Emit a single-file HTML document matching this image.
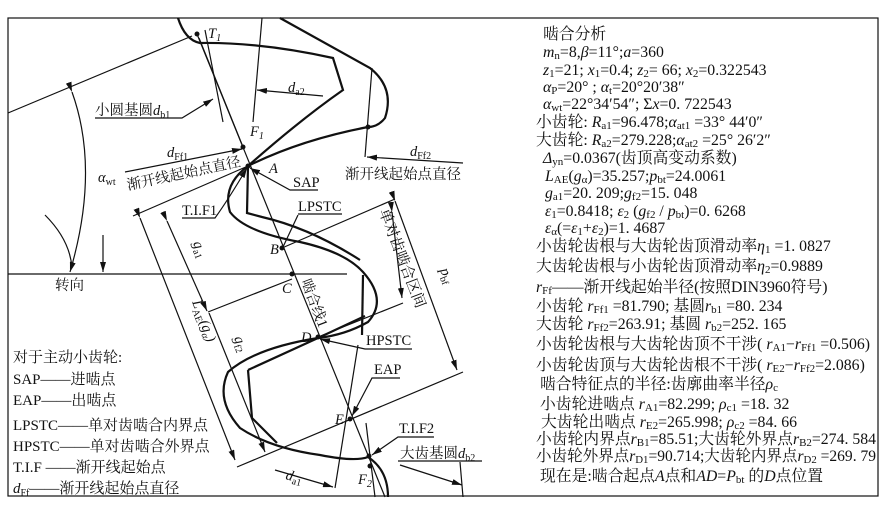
<!DOCTYPE html>
<html><head><meta charset="utf-8"><style>
html,body{margin:0;padding:0;background:#fff;width:896px;height:513px;overflow:hidden}
svg{display:block}
text{font-family:"Liberation Serif","Noto Serif CJK SC",serif;fill:#111}
.t{font-size:14.5px}
.i{font-style:italic}
</style></head><body>
<svg width="896" height="513" viewBox="0 0 896 513" xmlns="http://www.w3.org/2000/svg">
<defs>
<marker id="ar" markerWidth="10" markerHeight="6" refX="10" refY="3" orient="auto" markerUnits="userSpaceOnUse">
<path d="M0,0 L10,3 L0,6 Z" fill="#111"/></marker>
</defs>
<g fill="none" stroke="#111" stroke-width="1.2">
<rect x="8" y="18" width="870" height="478"/>
<line x1="8" y1="274" x2="347" y2="274"/>
<line x1="8" y1="113" x2="192" y2="36"/>
<path d="M72,92 Q100,170 70,272" marker-start="url(#ar)" marker-end="url(#ar)"/>
<path d="M45,215 Q70,240 72,268"/>
<line x1="103" y1="235" x2="103" y2="272" marker-end="url(#ar)"/>
<line x1="197" y1="34" x2="385" y2="497"/>
<line x1="205" y1="30" x2="223" y2="122"/>
<line x1="199" y1="38" x2="243" y2="147"/>
<line x1="262" y1="18" x2="253" y2="122"/>
<line x1="323" y1="96" x2="257" y2="90" marker-end="url(#ar)"/>
<line x1="133" y1="216" x2="248" y2="166"/>
<line x1="282" y1="248" x2="395" y2="199"/>
<line x1="208" y1="312" x2="292" y2="279"/>
<line x1="318" y1="337" x2="403" y2="303"/>
<line x1="237" y1="467" x2="463" y2="372"/>
<line x1="140" y1="218" x2="235" y2="460" marker-start="url(#ar)" marker-end="url(#ar)"/>
<line x1="167" y1="221" x2="207" y2="311" marker-start="url(#ar)" marker-end="url(#ar)"/>
<line x1="209" y1="313" x2="265" y2="452" marker-end="url(#ar)"/>
<line x1="395" y1="201" x2="457" y2="370" marker-start="url(#ar)" marker-end="url(#ar)"/>
<line x1="392" y1="212" x2="402" y2="298" marker-start="url(#ar)" marker-end="url(#ar)"/>
<polyline points="95,118 182,118 213,99" marker-end="url(#ar)"/>
<line x1="125" y1="172" x2="242" y2="149" marker-end="url(#ar)"/>
<line x1="463" y1="163" x2="367" y2="157" marker-end="url(#ar)"/>
<line x1="372" y1="68" x2="365" y2="157"/>
<polyline points="318,190 290,190 250,168" marker-end="url(#ar)"/>
<polyline points="298,215 283,247"/>
<line x1="298" y1="214" x2="342" y2="214"/>
<path d="M182,218 L215,218 Q228,200 247,168" marker-end="url(#ar)"/>
<polyline points="412,349 365,349 320,339" marker-end="url(#ar)"/>
<polyline points="400,378 372,378 352,416" marker-end="url(#ar)"/>
<line x1="358" y1="345" x2="335" y2="488"/>
<polyline points="434,437 398,437 372,455" marker-end="url(#ar)"/>
<line x1="366" y1="423" x2="375" y2="497"/>
<line x1="398" y1="461" x2="482" y2="461"/>
<line x1="400" y1="465" x2="462" y2="485" marker-end="url(#ar)"/>
<line x1="460" y1="462" x2="463" y2="497"/>
<line x1="275" y1="470" x2="333" y2="487" marker-end="url(#ar)"/>
</g>
<g fill="none" stroke="#111" stroke-width="2.2">
<path d="M178,18 Q185,40 200,43 Q260,42 333,58 L343,90 Q300,120 248,166"/>
<path d="M280,18 L370,68 Q395,88 385,118 Q378,127 368,127 Q300,140 248,166"/>
<path d="M248,166 Q222,185 230,212 Q245,232 300,242 Q345,252 363,272 Q388,300 368,322 Q345,335 318,338 Q255,348 228,372 Q215,400 240,428 Q270,448 320,455 Q355,462 368,457 Q388,470 388,497"/>
<path d="M248,166 L247,213 L262,217 Q310,228 360,260"/>
<line x1="363" y1="275" x2="362" y2="335"/>
<path d="M248,370 L318,338 L365,316"/>
<path d="M248,370 L252,418 L277,443"/>
</g>
<g fill="#111">
<circle cx="197" cy="34" r="2.5"/><circle cx="243" cy="147" r="2.5"/><circle cx="248" cy="166" r="2.5"/>
<circle cx="282" cy="248" r="2.5"/><circle cx="292" cy="274" r="2.5"/><circle cx="318" cy="337" r="2.5"/>
<circle cx="350" cy="419" r="2.5"/><circle cx="370" cy="466" r="2.5"/><circle cx="368" cy="127" r="2.5"/>
<circle cx="369" cy="456" r="2.5"/>
</g>
<g class="t">
<text x="208" y="38" class="i">T<tspan font-size="10" dy="3">1</tspan></text>
<text x="250" y="136" class="i">F<tspan font-size="10" dy="3">1</tspan></text>
<text x="269" y="173" class="i">A</text>
<text x="270" y="254" class="i">B</text>
<text x="282" y="293" class="i">C</text>
<text x="301" y="342" class="i">D</text>
<text x="335" y="424" class="i">E</text>
<text x="358" y="484" class="i">F<tspan font-size="10" dy="3">2</tspan></text>
<text x="95" y="115">小圆基圆<tspan class="i">d</tspan><tspan font-size="10" dy="3">b1</tspan></text>
<text x="167" y="157" class="i">d<tspan font-size="10" dy="3" font-style="normal">Ff1</tspan></text>
<text x="128" y="190" transform="rotate(-12 128 190)">渐开线起始点直径</text>
<text x="98" y="182" class="i">α<tspan font-size="10" dy="3" font-style="normal">wt</tspan></text>
<text x="288" y="92" class="i">d<tspan font-size="10" dy="3" font-style="normal">a2</tspan></text>
<text x="410" y="156" class="i">d<tspan font-size="10" dy="3" font-style="normal">Ff2</tspan></text>
<text x="345" y="179">渐开线起始点直径</text>
<text x="293" y="187">SAP</text>
<text x="298" y="211">LPSTC</text>
<text x="182" y="215">T.I.F1</text>
<text x="366" y="345">HPSTC</text>
<text x="374" y="374">EAP</text>
<text x="399" y="433">T.I.F2</text>
<text x="400" y="458">大齿基圆<tspan class="i">d</tspan><tspan font-size="10" dy="3">b2</tspan></text>
<text x="285" y="479" class="i" transform="rotate(15 285 479)">d<tspan font-size="10" dy="3" font-style="normal">a1</tspan></text>
<text x="55" y="290">转向</text>
<text x="301" y="281" transform="rotate(69 301 281)">啮合线1</text>
<text x="379" y="211" transform="rotate(69 379 211)" font-size="15">单对齿啮合区间</text>
<text x="440" y="270" class="i" transform="rotate(69 440 270)">p<tspan font-size="10" dy="3" font-style="normal">bf</tspan></text>
<text x="193" y="243" class="i" transform="rotate(69 193 243)">g<tspan font-size="10" dy="3" font-style="normal">a1</tspan></text>
<text x="192" y="302" class="i" transform="rotate(69 192 302)">L<tspan font-size="10" dy="3" font-style="normal">AE</tspan><tspan dy="-3">(g</tspan><tspan font-size="10" dy="3">α</tspan><tspan dy="-3">)</tspan></text>
<text x="234" y="338" class="i" transform="rotate(69 234 338)">g<tspan font-size="10" dy="3" font-style="normal">f2</tspan></text>
</g>
<g style="font-size:15px">
<text x="13" y="362">对于主动小齿轮:</text>
<text x="13" y="384">SAP——进啮点</text>
<text x="13" y="405">EAP——出啮点</text>
<text x="13" y="430">LPSTC——单对齿啮合内界点</text>
<text x="13" y="451">HPSTC——单对齿啮合外界点</text>
<text x="13" y="472">T.I.F ——渐开线起始点</text>
<text x="13" y="493"><tspan class="i">d</tspan><tspan font-size="10" dy="3">Ff</tspan><tspan dy="-3">——渐开线起始点直径</tspan></text>
</g>
<g style="font-size:15.8px">
<text x="543" y="39">啮合分析</text>
<text x="543" y="57"><tspan class="i">m</tspan><tspan font-size="11" dy="2">n</tspan><tspan dy="-2">=8,</tspan><tspan class="i">β</tspan>=11°;<tspan class="i">a</tspan>=360</text>
<text x="543" y="75"><tspan class="i">z</tspan><tspan font-size="11" dy="2">1</tspan><tspan dy="-2">=21; </tspan><tspan class="i">x</tspan><tspan font-size="11" dy="2">1</tspan><tspan dy="-2">=0.4; </tspan><tspan class="i">z</tspan><tspan font-size="11" dy="2">2</tspan><tspan dy="-2">= 66; </tspan><tspan class="i">x</tspan><tspan font-size="11" dy="2">2</tspan><tspan dy="-2">=0.322543</tspan></text>
<text x="543" y="92"><tspan class="i">α</tspan><tspan font-size="11" dy="2">P</tspan><tspan dy="-2">=20° ; </tspan><tspan class="i">α</tspan><tspan font-size="11" dy="2">t</tspan><tspan dy="-2">=20°20′38″</tspan></text>
<text x="543" y="109"><tspan class="i">α</tspan><tspan font-size="11" dy="2">wt</tspan><tspan dy="-2">=22°34′54″; Σ</tspan><tspan class="i">x</tspan>=0. 722543</text>
<text x="536" y="127">小齿轮: <tspan class="i">R</tspan><tspan font-size="11" dy="2">a1</tspan><tspan dy="-2">=96.478;</tspan><tspan class="i">α</tspan><tspan font-size="11" dy="2">at1</tspan><tspan dy="-2"> =33° 44′0″</tspan></text>
<text x="536" y="145">大齿轮: <tspan class="i">R</tspan><tspan font-size="11" dy="2">a2</tspan><tspan dy="-2">=279.228;</tspan><tspan class="i">α</tspan><tspan font-size="11" dy="2">at2</tspan><tspan dy="-2"> =25° 26′2″</tspan></text>
<text x="543" y="163"><tspan class="i">Δ</tspan><tspan font-size="11" dy="2">yn</tspan><tspan dy="-2">=0.0367(齿顶高变动系数)</tspan></text>
<text x="545" y="181"><tspan class="i">L</tspan><tspan font-size="11" dy="2">AE</tspan><tspan dy="-2">(</tspan><tspan class="i">g</tspan><tspan font-size="11" dy="2">α</tspan><tspan dy="-2">)=35.257;</tspan><tspan class="i">p</tspan><tspan font-size="11" dy="2">bt</tspan><tspan dy="-2">=24.0061</tspan></text>
<text x="545" y="198"><tspan class="i">g</tspan><tspan font-size="11" dy="2">a1</tspan><tspan dy="-2">=20. 209;</tspan><tspan class="i">g</tspan><tspan font-size="11" dy="2">f2</tspan><tspan dy="-2">=15. 048</tspan></text>
<text x="545" y="216"><tspan class="i">ε</tspan><tspan font-size="11" dy="2">1</tspan><tspan dy="-2">=0.8418; </tspan><tspan class="i">ε</tspan><tspan font-size="11" dy="2">2</tspan><tspan dy="-2"> (</tspan><tspan class="i">g</tspan><tspan font-size="11" dy="2">f2</tspan><tspan dy="-2"> / </tspan><tspan class="i">p</tspan><tspan font-size="11" dy="2">bt</tspan><tspan dy="-2">)=0. 6268</tspan></text>
<text x="545" y="233"><tspan class="i">ε</tspan><tspan font-size="11" dy="2">α</tspan><tspan dy="-2">(=</tspan><tspan class="i">ε</tspan><tspan font-size="11" dy="2">1</tspan><tspan dy="-2">+</tspan><tspan class="i">ε</tspan><tspan font-size="11" dy="2">2</tspan><tspan dy="-2">)=1. 4687</tspan></text>
<text x="536" y="251">小齿轮齿根与大齿轮齿顶滑动率<tspan class="i">η</tspan><tspan font-size="11" dy="2">1</tspan><tspan dy="-2"> =1. 0827</tspan></text>
<text x="536" y="271">大齿轮齿根与小齿轮齿顶滑动率<tspan class="i">η</tspan><tspan font-size="11" dy="2">2</tspan><tspan dy="-2">=0.9889</tspan></text>
<text x="536" y="292"><tspan class="i">r</tspan><tspan font-size="11" dy="2">Ff</tspan><tspan dy="-2">——渐开线起始半径(按照DIN3960符号)</tspan></text>
<text x="536" y="311">小齿轮 <tspan class="i">r</tspan><tspan font-size="11" dy="2">Ff1</tspan><tspan dy="-2"> =81.790; 基圆</tspan><tspan class="i">r</tspan><tspan font-size="11" dy="2">b1</tspan><tspan dy="-2"> =80. 234</tspan></text>
<text x="536" y="329">大齿轮 <tspan class="i">r</tspan><tspan font-size="11" dy="2">Ff2</tspan><tspan dy="-2">=263.91; 基圆 </tspan><tspan class="i">r</tspan><tspan font-size="11" dy="2">b2</tspan><tspan dy="-2">=252. 165</tspan></text>
<text x="536" y="349">小齿轮齿根与大齿轮齿顶不干涉( <tspan class="i">r</tspan><tspan font-size="11" dy="2">A1</tspan><tspan dy="-2">−</tspan><tspan class="i">r</tspan><tspan font-size="11" dy="2">Ff1</tspan><tspan dy="-2"> =0.506)</tspan></text>
<text x="536" y="370">小齿轮齿顶与大齿轮齿根不干涉( <tspan class="i">r</tspan><tspan font-size="11" dy="2">E2</tspan><tspan dy="-2">−</tspan><tspan class="i">r</tspan><tspan font-size="11" dy="2">Ff2</tspan><tspan dy="-2">=2.086)</tspan></text>
<text x="540" y="389">啮合特征点的半径:齿廓曲率半径<tspan class="i">ρ</tspan><tspan font-size="11" dy="2">c</tspan></text>
<text x="540" y="409">小齿轮进啮点 <tspan class="i">r</tspan><tspan font-size="11" dy="2">A1</tspan><tspan dy="-2">=82.299; </tspan><tspan class="i">ρ</tspan><tspan font-size="11" dy="2">c1</tspan><tspan dy="-2"> =18. 32</tspan></text>
<text x="541" y="427">大齿轮出啮点 <tspan class="i">r</tspan><tspan font-size="11" dy="2">E2</tspan><tspan dy="-2">=265.998; </tspan><tspan class="i">ρ</tspan><tspan font-size="11" dy="2">c2</tspan><tspan dy="-2"> =84. 66</tspan></text>
<text x="536" y="444" textLength="340" lengthAdjust="spacingAndGlyphs">小齿轮内界点<tspan class="i">r</tspan><tspan font-size="11" dy="2">B1</tspan><tspan dy="-2">=85.51;大齿轮外界点</tspan><tspan class="i">r</tspan><tspan font-size="11" dy="2">B2</tspan><tspan dy="-2">=274. 584</tspan></text>
<text x="536" y="461" textLength="340" lengthAdjust="spacingAndGlyphs">小齿轮外界点<tspan class="i">r</tspan><tspan font-size="11" dy="2">D1</tspan><tspan dy="-2">=90.714;大齿轮内界点</tspan><tspan class="i">r</tspan><tspan font-size="11" dy="2">D2</tspan><tspan dy="-2"> =269. 79</tspan></text>
<text x="540" y="481">现在是:啮合起点<tspan class="i">A</tspan>点和<tspan class="i">AD</tspan>=<tspan class="i">P</tspan><tspan font-size="11" dy="2">bt</tspan><tspan dy="-2"> 的</tspan><tspan class="i">D</tspan>点位置</text>
</g>
</svg>
</body></html>
